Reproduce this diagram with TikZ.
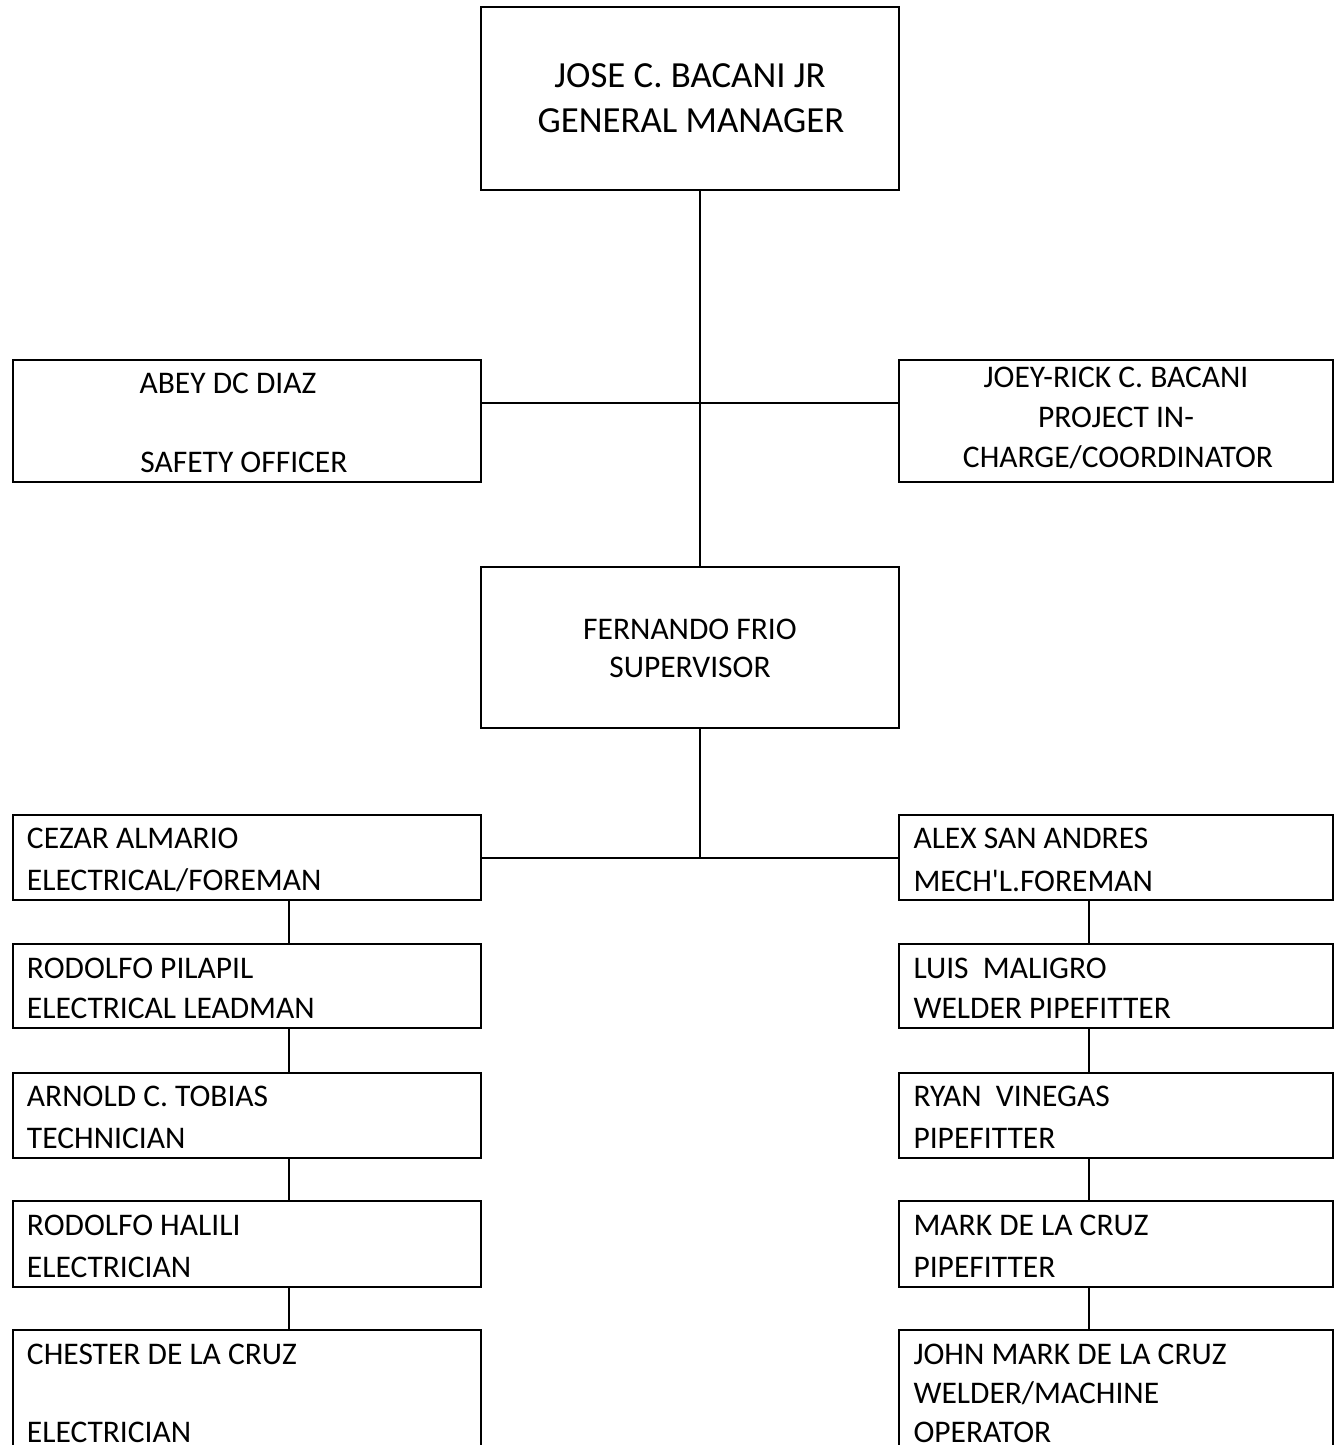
\documentclass[tikz,border=0pt]{standalone}
\usepackage{fontspec}
\setmainfont{Carlito}
\begin{document}
\begin{tikzpicture}[x=1pt,y=-1pt,
  box/.style={draw=black, line width=2pt, rectangle, inner sep=0pt, outer sep=0pt, anchor=north west},
  lbox/.style={box, minimum width=468pt},
  rbox/.style={box, minimum width=434pt},
  link/.style={draw=black, line width=2pt},
  txt/.style={inner sep=0pt, outer sep=0pt, font=\fontsize{31.5}{38}\selectfont},
  edgetxt/.style={txt, text depth=0pt},
  bigtxt/.style={inner sep=0pt, outer sep=0pt, font=\fontsize{36.8}{44}\selectfont}]
\useasboundingbox (0,0) rectangle (1338,1445);
\clip (0,0) rectangle (1338,1445);
\fill[white] (0,0) rectangle (1338,1445);

% helper coordinates for connector lines
\coordinate (spine) at (700,0);
\coordinate (lx) at (289,0);
\coordinate (rx) at (1089,0);
\coordinate (hy1) at (0,403);
\coordinate (hy2) at (0,858);

% boxes
\node[box, minimum width=418pt, minimum height=183pt] (gm) at (481,7) {};
\node[lbox, minimum height=122pt] (abey) at (13,360) {};
\node[rbox, minimum height=122pt] (joey) at (899,360) {};
\node[box, minimum width=418pt, minimum height=161pt] (fern) at (481,567) {};

\node[lbox, minimum height=85pt] (L1) at (13,815) {};
\node[lbox, minimum height=84pt] (L2) at (13,944) {};
\node[lbox, minimum height=85pt] (L3) at (13,1073) {};
\node[lbox, minimum height=86pt] (L4) at (13,1201) {};
\node[lbox, minimum height=200pt] (L5) at (13,1330) {};

\node[rbox, minimum height=85pt] (R1) at (899,815) {};
\node[rbox, minimum height=84pt] (R2) at (899,944) {};
\node[rbox, minimum height=85pt] (R3) at (899,1073) {};
\node[rbox, minimum height=86pt] (R4) at (899,1201) {};
\node[rbox, minimum height=200pt] (R5) at (899,1330) {};

% connectors
\draw[link] (gm.south -| spine) -- (fern.north -| spine);
\draw[link] (abey.east |- hy1) -- (joey.west |- hy1);
\draw[link] (fern.south -| spine) -- (spine |- hy2);
\draw[link] (L1.east |- hy2) -- (R1.west |- hy2);
\draw[link] (L1.south -| lx) -- (L2.north -| lx);
\draw[link] (L2.south -| lx) -- (L3.north -| lx);
\draw[link] (L3.south -| lx) -- (L4.north -| lx);
\draw[link] (L4.south -| lx) -- (L5.north -| lx);
\draw[link] (R1.south -| rx) -- (R2.north -| rx);
\draw[link] (R2.south -| rx) -- (R3.north -| rx);
\draw[link] (R3.south -| rx) -- (R4.north -| rx);
\draw[link] (R4.south -| rx) -- (R5.north -| rx);

% texts
\node[bigtxt, anchor=base] (t1) at (690,87) {JOSE C. BACANI JR};
\node[bigtxt, anchor=base] (t2) at (691,132) {GENERAL MANAGER};

\node[txt, anchor=base] (t3) at (228,393) {ABEY DC DIAZ};
\node[txt, anchor=base] (t4) at (244,472) {SAFETY OFFICER};

\node[txt, anchor=base] (t5) at (1116,387) {JOEY-RICK C. BACANI};
\node[txt, anchor=base] (t6) at (1116,427) {PROJECT IN-};
\node[txt, anchor=base] (t7) at (1118,467) {CHARGE/COORDINATOR};

\node[txt, anchor=base] (t8) at (690,639) {FERNANDO FRIO};
\node[txt, anchor=base] (t9) at (690,677) {SUPERVISOR};

\node[txt, anchor=base west] (a1) at (27,848) {CEZAR ALMARIO};
\node[txt, anchor=base west] (a2) at (27,890) {ELECTRICAL/FOREMAN};
\node[txt, anchor=base west] (a3) at (27,978) {RODOLFO PILAPIL};
\node[txt, anchor=base west] (a4) at (27,1018) {ELECTRICAL LEADMAN};
\node[txt, anchor=base west] (a5) at (27,1106) {ARNOLD C. TOBIAS};
\node[txt, anchor=base west] (a6) at (27,1148) {TECHNICIAN};
\node[txt, anchor=base west] (a7) at (27,1235) {RODOLFO HALILI};
\node[txt, anchor=base west] (a8) at (27,1277) {ELECTRICIAN};
\node[txt, anchor=base west] (a9) at (27,1364) {CHESTER DE LA CRUZ};
\node[edgetxt, anchor=base west] (a10) at (27,1442) {ELECTRICIAN};

\node[txt, anchor=base west] (b1) at (913.5,848) {ALEX SAN ANDRES};
\node[txt, anchor=base west] (b2) at (913.5,891) {MECH\textquotesingle L.FOREMAN};
\node[txt, anchor=base west] (b3) at (913.5,978) {LUIS~~MALIGRO};
\node[txt, anchor=base west] (b4) at (913.5,1018) {WELDER PIPEFITTER};
\node[txt, anchor=base west] (b5) at (913.5,1106) {RYAN~~VINEGAS};
\node[txt, anchor=base west] (b6) at (913.5,1148) {PIPEFITTER};
\node[txt, anchor=base west] (b7) at (913.5,1235) {MARK DE LA CRUZ};
\node[txt, anchor=base west] (b8) at (913.5,1277) {PIPEFITTER};
\node[txt, anchor=base west] (b9) at (913.5,1364) {JOHN MARK DE LA CRUZ};
\node[txt, anchor=base west] (b10) at (913.5,1403) {WELDER/MACHINE};
\node[edgetxt, anchor=base west] (b11) at (913.5,1442) {OPERATOR};
\end{tikzpicture}
\end{document}
